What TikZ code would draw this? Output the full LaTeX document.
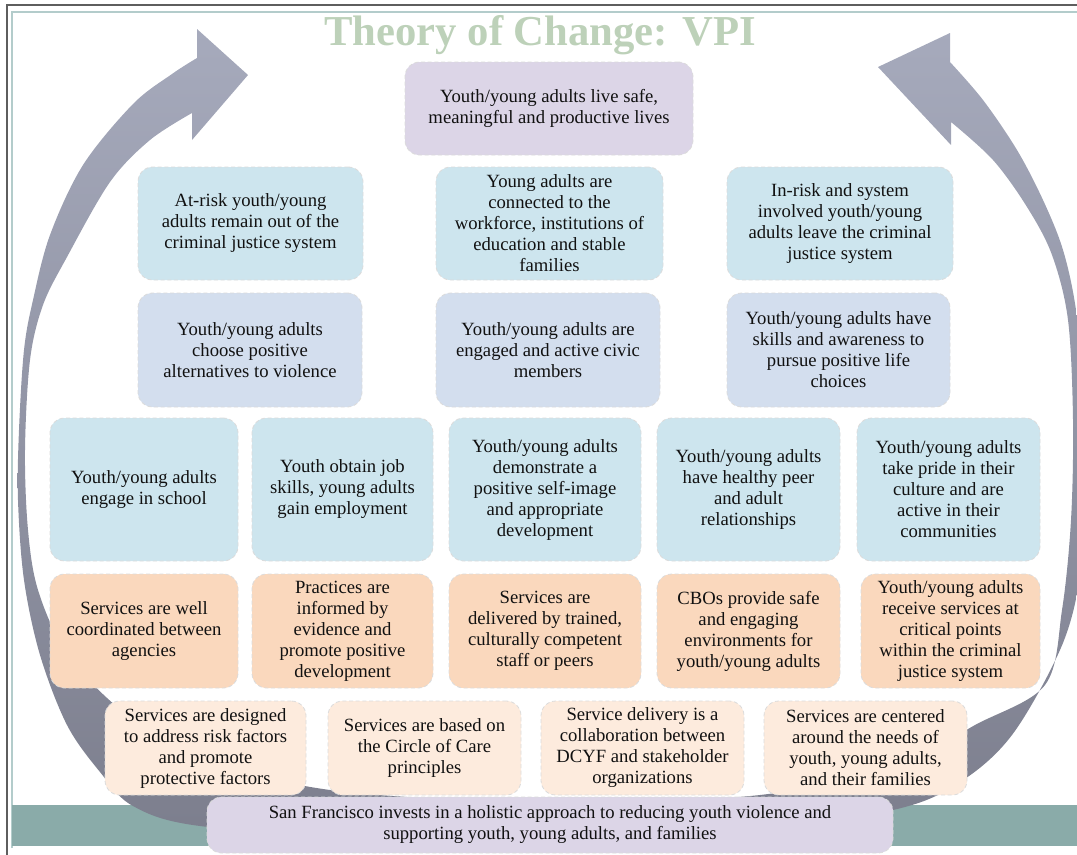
\documentclass[tikz,border=0pt]{standalone}
\usepackage{fontspec}
\setmainfont{Liberation Serif}

\definecolor{framegray}{HTML}{5E5E5E}
\definecolor{frameteal}{HTML}{B3CCCB}
\definecolor{stripteal}{HTML}{8AABA9}
\definecolor{ringtop}{HTML}{A6AABC}
\definecolor{ringbot}{HTML}{7C7E8D}
\definecolor{titlegreen}{HTML}{BDD1B9}
\definecolor{lavender}{HTML}{DCD5E7}
\definecolor{outcomeblue}{HTML}{CDE5EE}
\definecolor{civicblue}{HTML}{D3DEEE}
\definecolor{peach}{HTML}{FAD8BD}
\definecolor{lightpeach}{HTML}{FDEBDD}
\definecolor{inktext}{HTML}{111111}

\begin{document}
\begin{tikzpicture}[x=0.75pt, y=-0.75pt,
    cell/.style={rounded corners=11pt, draw=gray!28, densely dashed, line width=0.6pt,
        inner sep=0pt, align=center, text=inktext,
        font=\fontsize{14}{15.75}\selectfont}]

    % Fix the page to the size of the picture
    \useasboundingbox (0,0) rectangle (1077,854);

    % Draw the frame and the strip along the bottom
    \draw[framegray, line width=1.5pt] (7,870) -- (7,5) -- (1100,5);
    \draw[frameteal, line width=0.8pt] (12,848) -- (12,12) -- (1100,12);
    \fill[stripteal] (12,805) rectangle (1100,846);

    % Draw the ring of two curved arrows
    \shade[top color=ringtop, bottom color=ringbot]
        plot[smooth, tension=0.55] coordinates {(550,842) (380,838) (200,826) (133,806)
            (100,772) (67,725) (40,655) (24,580) (18,500) (19,430) (24,350) (33,300)
            (50,235) (83,165) (133,104) (172,74) (197,58)}
        -- (197,29) -- (248,75) -- (192,140) -- (192,113)
        -- plot[smooth, tension=0.55] coordinates {(192,113) (150,140) (110,182) (67,257)
            (43,305) (30,360) (25,450) (28,530) (38,590) (65,650) (115,705) (190,755)
            (330,790) (550,805)}
        -- plot[smooth, tension=0.55] coordinates {(550,805) (760,795) (900,765) (975,725)
            (1045,685) (1062,610) (1071,520) (1073,420) (1068,320) (1052,255) (1027,207)
            (993,160) (951,122)}
        -- (951,145) -- (878,67) -- (950,33) -- (950,62)
        -- plot[smooth, tension=0.55] coordinates {(950,62) (983,100) (1017,150) (1043,200)
            (1063,250) (1076,310) (1085,400) (1086,500) (1079,583) (1060,650) (1012,735)
            (960,782) (893,810) (720,838) (550,842)}
        -- cycle;

    % Add the title
    \node[anchor=base, text=titlegreen, font=\fontsize{32}{36}\selectfont\bfseries]
        (title) at (540,45) {Theory of Change: VPI};

    % Long-term goal
    \node[cell, fill=lavender, minimum width=216pt, minimum height=69.75pt]
        (goal) at (549,108.5) {Youth/young adults live safe,\\meaningful and productive lives};

    % Second row of outcomes
    \node[cell, fill=outcomeblue, minimum width=168.75pt, minimum height=84.75pt]
        (outA) at (250.5,223.5) {At-risk youth/young\\adults remain out of the\\criminal justice system};
    \node[cell, fill=outcomeblue, minimum width=170.25pt, minimum height=84.75pt]
        (outB) at (549.5,223.5) {Young adults are\\connected to the\\workforce, institutions of\\education and stable\\families};
    \node[cell, fill=outcomeblue, minimum width=169.5pt, minimum height=84.75pt]
        (outC) at (840,223.5) {In-risk and system\\involved youth/young\\adults leave the criminal\\justice system};

    % Third row of outcomes
    \node[cell, fill=civicblue, minimum width=168pt, minimum height=85.5pt]
        (civA) at (250,350) {Youth/young adults\\choose positive\\alternatives to violence};
    \node[cell, fill=civicblue, minimum width=168pt, minimum height=85.5pt]
        (civB) at (548,350) {Youth/young adults are\\engaged and active civic\\members};
    \node[cell, fill=civicblue, minimum width=167.25pt, minimum height=85.5pt]
        (civC) at (838.5,350) {Youth/young adults have\\skills and awareness to\\pursue positive life\\choices};

    % Fourth row of outcomes
    \node[cell, fill=outcomeblue, minimum width=141pt, minimum height=107.25pt]
        (skA) at (144,489.5) {Youth/young adults\\engage in school};
    \node[cell, fill=outcomeblue, minimum width=135.75pt, minimum height=107.25pt]
        (skB) at (342.5,489.5) {Youth obtain job\\skills, young adults\\gain employment};
    \node[cell, fill=outcomeblue, minimum width=144pt, minimum height=107.25pt]
        (skC) at (545,489.5) {Youth/young adults\\demonstrate a\\positive self-image\\and appropriate\\development};
    \node[cell, fill=outcomeblue, minimum width=137.25pt, minimum height=107.25pt]
        (skD) at (748.5,489.5) {Youth/young adults\\have healthy peer\\and adult\\relationships};
    \node[cell, fill=outcomeblue, minimum width=137.25pt, minimum height=107.25pt]
        (skE) at (948.5,489.5) {Youth/young adults\\take pride in their\\culture and are\\active in their\\communities};

    % Practices
    \node[cell, fill=peach, minimum width=141pt, minimum height=85.5pt]
        (prA) at (144,631) {Services are well\\coordinated between\\agencies};
    \node[cell, fill=peach, minimum width=135.75pt, minimum height=85.5pt]
        (prB) at (342.5,631) {Practices are\\informed by\\evidence and\\promote positive\\development};
    \node[cell, fill=peach, minimum width=144pt, minimum height=85.5pt]
        (prC) at (545,631) {Services are\\delivered by trained,\\culturally competent\\staff or peers};
    \node[cell, fill=peach, minimum width=137.25pt, minimum height=85.5pt]
        (prD) at (748.5,631) {CBOs provide safe\\and engaging\\environments for\\youth/young adults};
    \node[cell, fill=peach, minimum width=134.25pt, minimum height=85.5pt]
        (prE) at (950.5,631) {Youth/young adults\\receive services at\\critical points\\within the criminal\\justice system};

    % Principles
    \node[cell, fill=lightpeach, minimum width=150.75pt, minimum height=70.5pt]
        (pnA) at (205.5,748) {Services are designed\\to address risk factors\\and promote\\protective factors};
    \node[cell, fill=lightpeach, minimum width=144.75pt, minimum height=70.5pt]
        (pnB) at (424.5,748) {Services are based on\\the Circle of Care\\principles};
    \node[cell, fill=lightpeach, minimum width=152.25pt, minimum height=70.5pt]
        (pnC) at (642.5,748) {Service delivery is a\\collaboration between\\DCYF and stakeholder\\organizations};
    \node[cell, fill=lightpeach, minimum width=152.25pt, minimum height=70.5pt]
        (pnD) at (865.5,748) {Services are centered\\around the needs of\\youth, young adults,\\and their families};

    % Investment at the base
    \node[cell, fill=lavender, minimum width=514.5pt, minimum height=42pt]
        (base) at (550,825) {San Francisco invests in a holistic approach to reducing youth violence and\\supporting youth, young adults, and families};

\end{tikzpicture}
\end{document}
